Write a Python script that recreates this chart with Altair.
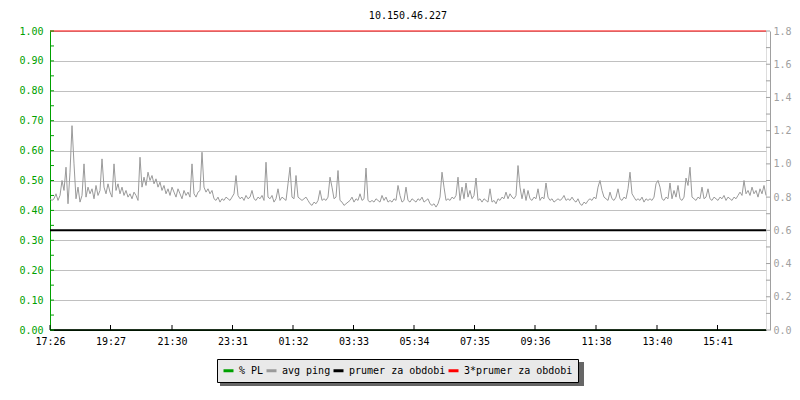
import altair as alt
import pandas as pd

# ---------------- data ----------------
series_names = ["% PL", "avg ping", "prumer za obdobi", "3*prumer za obdobi"]
series_colors = ["#00a000", "#9a9a9a", "#000000", "#ff0000"]

# x tick labels (time of day) and their offsets in minutes from 17:26
tick_labels = ["17:26", "19:27", "21:30", "23:31", "01:32", "03:33",
               "05:34", "07:35", "09:36", "11:38", "13:40", "15:41"]
tick_minutes = [0, 121, 244, 365, 486, 607, 728, 849, 970, 1092, 1214, 1335]

period_minutes = 1432
sample_step = 4  # minutes between samples

# avg ping samples (right axis units)
avg_ping = [
    0.79, 0.78, 0.79, 0.82, 0.78, 0.81, 0.90, 0.84, 0.98, 0.76,
    0.95, 1.23, 1.00, 0.79, 0.86, 0.77, 0.81, 1.00, 0.80, 0.86,
    0.82, 0.85, 0.79, 0.87, 0.81, 0.84, 1.03, 0.86, 0.82, 0.88,
    0.83, 0.80, 1.00, 0.84, 0.88, 0.82, 0.86, 0.81, 0.84, 0.80,
    0.82, 0.79, 0.83, 0.81, 0.78, 1.04, 0.86, 0.92, 0.87, 0.95,
    0.90, 0.93, 0.88, 0.91, 0.86, 0.89, 0.84, 0.87, 0.82, 0.85,
    0.81, 0.86, 0.83, 0.80, 0.85, 0.82, 0.79, 0.84, 0.81, 0.83,
    0.80, 1.00, 0.82, 0.80, 0.83, 0.84, 1.07, 0.86, 0.83, 0.85,
    0.82, 0.84, 0.79, 0.78, 0.80, 0.77, 0.79, 0.78, 0.80, 0.79,
    0.78, 0.80, 0.82, 0.93, 0.81, 0.79, 0.80, 0.78, 0.81, 0.79,
    0.80, 0.84, 0.79, 0.78, 0.80, 0.79, 0.81, 0.78, 1.01, 0.80,
    0.79, 0.81, 0.77, 0.79, 0.85, 0.78, 0.80, 0.79, 0.78, 0.88,
    0.98, 0.80, 0.79, 0.93, 0.80, 0.79, 0.78, 0.79, 0.80, 0.78,
    0.76, 0.75, 0.77, 0.76, 0.78, 0.84, 0.78, 0.79, 0.78, 0.80,
    0.92, 0.86, 0.79, 0.80, 0.96, 0.78, 0.77, 0.75, 0.76, 0.77,
    0.78, 0.80, 0.77, 0.79, 0.78, 0.82, 0.78, 0.79, 0.975, 0.78,
    0.77, 0.78, 0.77, 0.79, 0.78, 0.77, 0.81, 0.78, 0.80, 0.77,
    0.78, 0.77, 0.79, 0.78, 0.87, 0.81, 0.77, 0.78, 0.86, 0.78,
    0.77, 0.79, 0.78, 0.77, 0.79, 0.78, 0.80, 0.77, 0.78, 0.79,
    0.76, 0.75, 0.76, 0.74, 0.76, 0.80, 0.95, 0.86, 0.78, 0.79,
    0.78, 0.80, 0.79, 0.81, 0.92, 0.78, 0.86, 0.79, 0.885, 0.80,
    0.84, 0.79, 0.81, 0.915, 0.78, 0.79, 0.77, 0.79, 0.78, 0.77,
    0.85, 0.77, 0.78, 0.76, 0.79, 0.78, 0.80, 0.79, 0.83, 0.79,
    0.82, 0.80, 0.79, 0.81, 0.99, 0.86, 0.79, 0.85, 0.78, 0.84,
    0.79, 0.78, 0.80, 0.79, 0.85, 0.78, 0.80, 0.79, 0.885, 0.80,
    0.78, 0.79, 0.77, 0.78, 0.79, 0.78, 0.79, 0.81, 0.78, 0.79,
    0.78, 0.80, 0.78, 0.77, 0.79, 0.76, 0.75, 0.77, 0.76, 0.78,
    0.79, 0.78, 0.80, 0.79, 0.86, 0.90, 0.84, 0.80, 0.79, 0.78,
    0.83, 0.79, 0.78, 0.80, 0.85, 0.79, 0.78, 0.80, 0.79, 0.85,
    0.95, 0.82, 0.80, 0.78, 0.79, 0.78, 0.80, 0.77, 0.79, 0.78,
    0.79, 0.78, 0.80, 0.88, 0.90, 0.86, 0.79, 0.78, 0.80, 0.79,
    0.885, 0.79, 0.84, 0.80, 0.87, 0.79, 0.78, 0.80, 0.915, 0.87,
    0.98, 0.80, 0.79, 0.78, 0.80, 0.79, 0.86, 0.79, 0.80, 0.85,
    0.79, 0.78, 0.80, 0.79, 0.78, 0.80, 0.79, 0.81, 0.78, 0.80,
    0.79, 0.78, 0.80, 0.79, 0.81, 0.83, 0.81, 0.90, 0.82, 0.84,
    0.81, 0.86, 0.82, 0.84, 0.80, 0.85, 0.82, 0.87, 0.81,
]

pl_values = [0.0, 0.0]           # % PL (left axis)
mean_value = 0.6                 # prumer za obdobi (right axis units)
triple_mean_value = 1.8          # 3*prumer za obdobi (right axis units)

left_ticks = [0.0, 0.05, 0.1, 0.15, 0.2, 0.25, 0.3, 0.35, 0.4, 0.45, 0.5,
              0.55, 0.6, 0.65, 0.7, 0.75, 0.8, 0.85, 0.9, 0.95, 1.0]
left_labels = [0.0, 0.1, 0.2, 0.3, 0.4, 0.5, 0.6, 0.7, 0.8, 0.9, 1.0]
right_ticks = [0.0, 0.1, 0.2, 0.3, 0.4, 0.5, 0.6, 0.7, 0.8, 0.9, 1.0,
               1.1, 1.2, 1.3, 1.4, 1.5, 1.6, 1.7, 1.8]
right_labels = [0.0, 0.2, 0.4, 0.6, 0.8, 1.0, 1.2, 1.4, 1.6, 1.8]

# ---------------- tables ----------------
ping_df = pd.DataFrame({
    "minute": [i * sample_step for i in range(len(avg_ping))],
    "value": avg_ping,
    "series": series_names[1],
})
pl_df = pd.DataFrame({"minute": [0, period_minutes], "value": pl_values,
                      "series": series_names[0]})
mean_df = pd.DataFrame({"minute": [0, period_minutes],
                        "value": [mean_value, mean_value],
                        "series": series_names[2]})
triple_df = pd.DataFrame({"minute": [0, period_minutes],
                          "value": [triple_mean_value, triple_mean_value],
                          "series": series_names[3]})
left_tick_df = pd.DataFrame({"v": left_ticks})
right_tick_df = pd.DataFrame({"v": right_ticks})
bottom_tick_df = pd.DataFrame({"minute": tick_minutes})

# ---------------- styling ----------------
MONO = "DejaVu Sans Mono"
W, H = 716, 299
GREEN = "#00a000"
RGRAY = "#a0a0a0"

label_expr = " : ".join(
    f"datum.value == {m} ? '{l}'" for m, l in zip(tick_minutes, tick_labels)
) + " : ''"

x_scale = alt.Scale(domain=[0, period_minutes], nice=False, zero=False)
x_axis = alt.Axis(values=tick_minutes, labelExpr=label_expr, title=None,
                  ticks=False, domainColor="#000000", domainWidth=1,
                  labelColor="#000000", labelFont=MONO, labelFontSize=10,
                  labelPadding=6, labelFlush=False, labelOverlap=False,
                  grid=False)
x_enc = alt.X("minute:Q", scale=x_scale, axis=x_axis)

left_scale = alt.Scale(domain=[0, 1], nice=False, zero=False)
right_scale = alt.Scale(domain=[0, 1.8], nice=False, zero=False)

left_axis = alt.Axis(orient="left", values=left_labels, format=".2f", title=None,
                     ticks=False, domainColor=GREEN, domainWidth=1,
                     labelColor=GREEN, labelFont=MONO, labelFontSize=10,
                     labelPadding=7, grid=True, gridColor="#c0c0c0",
                     gridWidth=1, labelFlush=False, labelOverlap=False)
right_axis = alt.Axis(orient="right", values=right_labels, format=".1f",
                      title=None, ticks=False, domainColor=RGRAY,
                      domainWidth=1, labelColor=RGRAY, labelFont=MONO,
                      labelFontSize=10, labelPadding=3, offset=4, grid=False,
                      labelFlush=False, labelOverlap=False)

legend = alt.Legend(title=None, orient="none", legendX=167, legendY=328,
                    direction="horizontal", columns=4, symbolType="stroke",
                    symbolSize=100, symbolStrokeWidth=3, labelFont=MONO,
                    labelFontSize=10, labelColor="#000000", labelOffset=4,
                    columnPadding=-4, padding=5, fillColor="#e9e9e9",
                    strokeColor="#000000")
color_enc = alt.Color("series:N",
                      scale=alt.Scale(domain=series_names, range=series_colors),
                      legend=legend)

# ---------------- layers ----------------
shadow = alt.Chart(alt.Data(values=[{}])).mark_rect(color="#666666").encode(
    x=alt.value(170), x2=alt.value(534), y=alt.value(331), y2=alt.value(355))

pl_line = alt.Chart(pl_df).mark_line(strokeWidth=1).encode(
    x=x_enc, y=alt.Y("value:Q", scale=left_scale, axis=left_axis),
    color=color_enc)

# black bottom axis line drawn over the zero-level % PL line
base_rule = alt.Chart(pl_df).mark_rule(color="#000000", strokeWidth=1).encode(
    y=alt.Y("value:Q", scale=left_scale, axis=None))

ping_line = alt.Chart(ping_df).mark_line(strokeWidth=1).encode(
    x=x_enc, y=alt.Y("value:Q", scale=right_scale, axis=right_axis),
    color=color_enc)

mean_line = alt.Chart(mean_df).mark_line(strokeWidth=2).encode(
    x=x_enc, y=alt.Y("value:Q", scale=right_scale, axis=None),
    color=color_enc)

triple_line = alt.Chart(triple_df).mark_line(strokeWidth=1.2).encode(
    x=x_enc, y=alt.Y("value:Q", scale=right_scale, axis=None),
    color=color_enc)

left_tick_rules = alt.Chart(left_tick_df).mark_rule(color=GREEN, strokeWidth=1).encode(
    y=alt.Y("v:Q", scale=left_scale, axis=None),
    x=alt.value(0), x2=alt.value(4))

right_tick_rules = alt.Chart(right_tick_df).mark_rule(color=RGRAY, strokeWidth=1).encode(
    y=alt.Y("v:Q", scale=right_scale, axis=None),
    x=alt.value(W), x2=alt.value(W + 4))

bottom_tick_rules = alt.Chart(bottom_tick_df).mark_rule(color="#000000", strokeWidth=1).encode(
    x=x_enc, y=alt.value(H - 5), y2=alt.value(H))

chart = alt.layer(
    pl_line, base_rule, ping_line, mean_line, triple_line,
    left_tick_rules, right_tick_rules, bottom_tick_rules, shadow,
).resolve_scale(y="independent").properties(
    width=W, height=H,
    title=alt.TitleParams("10.150.46.227", font=MONO, fontSize=10,
                          fontWeight="normal", color="#000000",
                          anchor="middle", offset=5),
    autosize=alt.AutoSizeParams(type="none"),
    padding={"left": 42, "top": 23, "right": 26, "bottom": 57},
).configure_view(stroke=None).configure(background="white")

chart.save("out.html", embed_options={"renderer": "svg", "actions": False})
